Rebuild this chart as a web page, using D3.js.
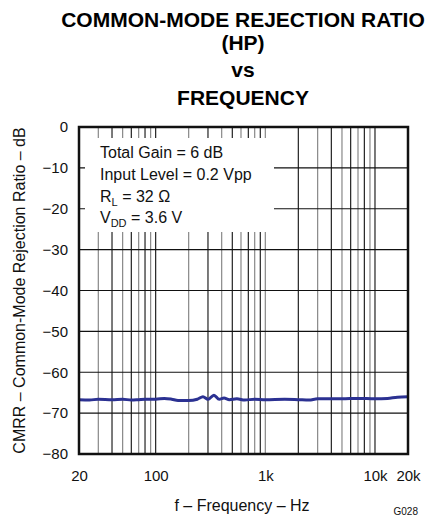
<!DOCTYPE html>
<html>
<head>
<meta charset="utf-8">
<script src="https://cdn.jsdelivr.net/npm/d3@7"></script>
<style>
  body { margin: 0; background: #fff; }
  svg { display: block; font-family: "Liberation Sans", Arial, sans-serif; }
</style>
</head>
<body>
<svg id="chart"></svg>
<script>
// values
var freq = [20, 25, 30, 40, 50, 60, 70, 80, 100, 120, 140, 160, 200, 240, 270, 300, 340, 380, 420, 470,
            550, 650, 800, 1000, 1500, 2000, 2500, 3000, 4000, 5000, 7000, 10000, 13000, 16000, 20000];
var cmrr = [-66.7, -66.8, -66.6, -66.7, -66.6, -66.8, -66.7, -66.6, -66.6, -66.4, -66.6, -66.9, -66.9, -66.6, -66.0, -66.6, -65.6, -66.6, -66.3, -66.7,
            -66.5, -66.8, -66.6, -66.7, -66.6, -66.7, -66.8, -66.5, -66.5, -66.5, -66.4, -66.5, -66.4, -66.1, -66.0];

var yTicks = [0, -10, -20, -30, -40, -50, -60, -70, -80];
var xTicks = [20, 100, 1000, 10000, 20000];
var xTickLabels = ["20", "100", "1k", "10k", "20k"];
var titleLines = ["COMMON-MODE REJECTION RATIO", "(HP)", "vs", "FREQUENCY"];

var width = 426, height = 518;
var pLeft = 79, pRight = 408, pTop = 127, pBottom = 454;

var svg = d3.select("#chart").attr("width", width).attr("height", height);

var x = d3.scaleLog().domain([20, 20000]).range([pLeft, pRight]);
var y = d3.scaleLinear().domain([-80, 0]).range([pBottom, pTop]);

// grid lines (every 1-9 step of each decade)
var gridF = [];
[10, 100, 1000, 10000].forEach(function(d) {
	for (var k = 1; k <= 9; k++) {
		var f = d * k;
		if (f > 20 && f < 20000) gridF.push(f);
	}
});

var grid = svg.append("g").attr("class", "grid");

grid.selectAll("line.v")
	.data(gridF)
	.enter().append("line")
	.attr("class", "v")
	.attr("x1", function(d) { return x(d); })
	.attr("x2", function(d) { return x(d); })
	.attr("y1", pTop)
	.attr("y2", pBottom)
	.attr("stroke", function(d, i) { return i % 2 == 0 ? "#888" : "#222"; })
	.attr("stroke-width", 1.2);

grid.selectAll("line.h")
	.data(yTicks.slice(1, -1))
	.enter().append("line")
	.attr("class", "h")
	.attr("x1", pLeft)
	.attr("x2", pRight)
	.attr("y1", function(d) { return y(d); })
	.attr("y2", function(d) { return y(d); })
	.attr("stroke", "#111")
	.attr("stroke-width", 1.2);

// legend box hides the grid behind it
svg.append("rect")
	.attr("x", 85).attr("y", 138)
	.attr("width", 189).attr("height", 94)
	.attr("fill", "#fff");

var legend = svg.append("g").attr("font-size", 16).attr("fill", "#111");
legend.append("text").attr("x", 100).attr("y", 158).text("Total Gain = 6 dB");
legend.append("text").attr("x", 100).attr("y", 180).text("Input Level = 0.2 Vpp");
var rl = legend.append("text").attr("x", 100).attr("y", 202);
rl.append("tspan").text("R");
rl.append("tspan").attr("font-size", 11).attr("dy", 4).text("L");
rl.append("tspan").attr("dy", -4).text(" = 32 \u03A9");
var vdd = legend.append("text").attr("x", 100).attr("y", 223);
vdd.append("tspan").text("V");
vdd.append("tspan").attr("font-size", 11).attr("dy", 4).text("DD");
vdd.append("tspan").attr("dy", -4).text(" = 3.6 V");

// curve
var line = d3.line()
	.x(function(d, i) { return x(freq[i]); })
	.y(function(d) { return y(d); })
	.curve(d3.curveMonotoneX);

svg.append("path")
	.datum(cmrr)
	.attr("d", line)
	.attr("fill", "none")
	.attr("stroke", "#2b3192")
	.attr("stroke-width", 3);

// frame
svg.append("rect")
	.attr("x", pLeft).attr("y", pTop)
	.attr("width", pRight - pLeft).attr("height", pBottom - pTop)
	.attr("fill", "none")
	.attr("stroke", "#111")
	.attr("stroke-width", 2.5);

// axes (labels only, frame drawn above)
var xAxis = svg.append("g")
	.attr("transform", "translate(0," + (pBottom + 13) + ")")
	.call(d3.axisBottom(x).tickValues(xTicks).tickSize(0)
		.tickFormat(function(d, i) { return xTickLabels[i]; }));
xAxis.select(".domain").remove();
xAxis.selectAll("text").attr("font-size", 15).attr("fill", "#111")
	.attr("font-family", "Liberation Sans, Arial, sans-serif");

var yAxis = svg.append("g")
	.attr("transform", "translate(" + (pLeft - 8) + ",0)")
	.call(d3.axisLeft(y).tickValues(yTicks).tickSize(0)
		.tickFormat(function(d) { return d < 0 ? "\u2212" + Math.abs(d) : d; }));
yAxis.select(".domain").remove();
yAxis.selectAll("text").attr("font-size", 15).attr("fill", "#111")
	.attr("font-family", "Liberation Sans, Arial, sans-serif");

// axis titles
svg.append("text")
	.attr("x", 242).attr("y", 511)
	.attr("text-anchor", "middle")
	.attr("font-size", 16).attr("fill", "#111")
	.text("f \u2013 Frequency \u2013 Hz");

svg.append("text")
	.attr("transform", "translate(25," + ((pTop + pBottom) / 2) + ") rotate(-90)")
	.attr("text-anchor", "middle")
	.attr("font-size", 16).attr("fill", "#111")
	.text("CMRR \u2013 Common-Mode Rejection Ratio \u2013 dB");

svg.append("text")
	.attr("x", 418).attr("y", 515)
	.attr("text-anchor", "end")
	.attr("font-size", 10).attr("fill", "#111")
	.text("G028");

// title
var titleY = [27, 50, 77, 105];
svg.append("g").selectAll("text")
	.data(titleLines)
	.enter().append("text")
	.attr("x", 243)
	.attr("y", function(d, i) { return titleY[i]; })
	.attr("text-anchor", "middle")
	.attr("font-size", 21)
	.attr("font-weight", "bold")
	.attr("fill", "#000")
	.text(function(d) { return d; });
</script>
</body>
</html>
